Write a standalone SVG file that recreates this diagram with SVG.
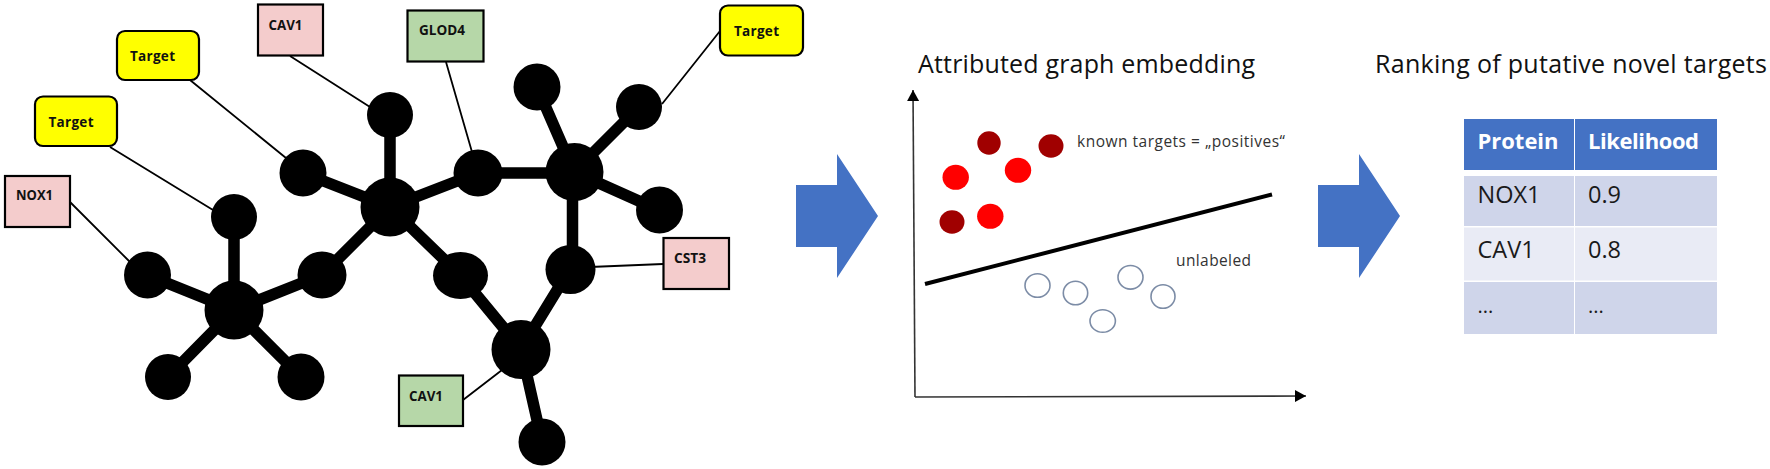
<svg xmlns="http://www.w3.org/2000/svg" width="1770" height="469" viewBox="0 0 1770 469">
<style>
text{font-family:"Open Sans","Noto Sans","Liberation Sans",sans-serif}
.edge{stroke:#000;stroke-width:11.500;fill:none}
.link{stroke:#000;stroke-width:1.8;fill:none}
.n{fill:#000}
.box{stroke:#000;stroke-width:2.2}
.pink{fill:#f4cccc}
.green{fill:#b6d7a8}
.yellow{fill:#ffff00}
.lab{font-size:13.500px;font-weight:700;fill:#111}
.title{font-size:25px;fill:#111}
.note{font-size:15.500px;fill:#333}
.arrow{fill:#4472c4}
.axis{stroke:#333;stroke-width:1.6;fill:none;marker-end:url(#ah)}
.pos{fill:#ff0000}
.dark{fill:#a00000}
.open{fill:#fff;stroke:#7c8ca6;stroke-width:1.6}
.hd{fill:#4472c4}
.r1{fill:#cfd5ea}
.r2{fill:#e9ebf5}
.th{font-size:22px;font-weight:700;fill:#fff}
.td{font-size:23.500px;fill:#1a1a1a}
</style>
<defs>
<marker id="ah" markerUnits="userSpaceOnUse" markerWidth="12" markerHeight="12" refX="11" refY="6" orient="auto"><path d="M0 0L11 6L0 12Z" fill="#000"/></marker>
</defs>
<rect width="1770" height="469" fill="#fff"/>
<g id="connectors">
<path class="edge" d="M234 310L234 217M234 310L147 275M234 310L168 377M234 310L301 377M234 310L322 275M322 275L390 207M390 207L390 115M390 207L303 173M390 207L478 173M478 173L574 173M574 172L537 87M574 172L639 107M574 172L659 210M572.500 172L572.500 269M570 269L521 349M390 207L460 275M460 275L521 349M521 349L542 442"/>
<path class="link" d="M70 202L130 262M110 147L213 210M190 80L286 158M290 56L370 107M446 62L472 152M720 31L662 104M590 267L663 264M463 400L502 370"/>
</g>
<g id="hub-a"><circle class="n" cx="234" cy="310" r="29.500"/></g>
<g id="node-a-top"><circle class="n" cx="234" cy="217" r="23"/></g>
<g id="node-a-left"><circle class="n" cx="147.500" cy="275" r="23.500"/></g>
<g id="node-a-bl"><circle class="n" cx="168" cy="377" r="23"/></g>
<g id="node-a-br"><circle class="n" cx="301" cy="377" r="23.500"/></g>
<g id="node-a-right"><ellipse class="n" cx="322" cy="275" rx="24.500" ry="23.500"/></g>
<g id="hub-b"><circle class="n" cx="390" cy="207" r="29.500"/></g>
<g id="node-b-top"><circle class="n" cx="390" cy="115" r="23"/></g>
<g id="node-b-left"><circle class="n" cx="303" cy="173" r="23.500"/></g>
<g id="node-glod"><ellipse class="n" cx="478" cy="173" rx="24.500" ry="23.500"/></g>
<g id="hub-c"><circle class="n" cx="574.500" cy="172" r="29"/></g>
<g id="node-c-top"><circle class="n" cx="537" cy="87" r="23.500"/></g>
<g id="node-c-ur"><circle class="n" cx="639" cy="107" r="23"/></g>
<g id="node-c-right"><circle class="n" cx="659.500" cy="210" r="23.500"/></g>
<g id="node-c-bottom"><ellipse class="n" cx="570.500" cy="269.500" rx="25" ry="24.500"/></g>
<g id="node-lb"><ellipse class="n" cx="460.500" cy="275.500" rx="27.500" ry="23.500"/></g>
<g id="hub-d"><circle class="n" cx="521" cy="349.500" r="29.500"/></g>
<g id="node-d-bottom"><circle class="n" cx="542" cy="442" r="23.500"/></g>
<g id="label-nox1"><rect class="box pink" x="5" y="176" width="65" height="51"/><text class="lab" x="16" y="200" textLength="37" lengthAdjust="spacingAndGlyphs">NOX1</text></g>
<g id="label-target-1"><rect class="box yellow" x="35" y="96.500" width="82" height="49.500" rx="8"/><text class="lab" x="48.500" y="127" textLength="45">Target</text></g>
<g id="label-target-2"><rect class="box yellow" x="117" y="31" width="82" height="49" rx="8"/><text class="lab" x="130" y="61" textLength="45">Target</text></g>
<g id="label-cav1-pink"><rect class="box pink" x="258" y="4.500" width="65" height="51"/><text class="lab" x="268.500" y="30" textLength="34" lengthAdjust="spacingAndGlyphs">CAV1</text></g>
<g id="label-glod4"><rect class="box green" x="407.500" y="10.500" width="76" height="51"/><text class="lab" x="419" y="35" textLength="46" lengthAdjust="spacingAndGlyphs">GLOD4</text></g>
<g id="label-target-3"><rect class="box yellow" x="720" y="5.500" width="83" height="50" rx="8"/><text class="lab" x="734" y="36" textLength="45">Target</text></g>
<g id="label-cst3"><rect class="box pink" x="663.500" y="238" width="65.500" height="51"/><text class="lab" x="674" y="263" textLength="32" lengthAdjust="spacingAndGlyphs">CST3</text></g>
<g id="label-cav1-green"><rect class="box green" x="399" y="375.500" width="64" height="50.500"/><text class="lab" x="409" y="401" textLength="34" lengthAdjust="spacingAndGlyphs">CAV1</text></g>
<polygon class="arrow" points="796,185 837,185 837,154 878,216 837,278 837,247 796,247"/>
<polygon class="arrow" points="1318,185 1359,185 1359,154 1400,216 1359,278 1359,247 1318,247"/>
<text class="title" x="918" y="73" textLength="337">Attributed graph embedding</text>
<path class="axis" d="M915 397L913 90"/>
<path class="axis" d="M915 397L1306 396"/>
<circle class="dark" cx="989" cy="143" r="11.700"/>
<ellipse class="dark" cx="1051" cy="146" rx="12.500" ry="11.700"/>
<ellipse class="dark" cx="952" cy="222" rx="12.500" ry="11.700"/>
<ellipse class="pos" cx="955.700" cy="177.300" rx="13.200" ry="12.500"/>
<ellipse class="pos" cx="1018" cy="170.300" rx="13.200" ry="12.500"/>
<ellipse class="pos" cx="990.300" cy="216.300" rx="13.200" ry="12.500"/>
<path d="M925 284L1272 194.500" stroke="#000" stroke-width="4" fill="none"/>
<ellipse class="open" cx="1037.500" cy="285.500" rx="12.500" ry="11.800"/>
<ellipse class="open" cx="1075.500" cy="293" rx="12.200" ry="11.800"/>
<ellipse class="open" cx="1130.500" cy="277.300" rx="12.500" ry="11.800"/>
<ellipse class="open" cx="1163" cy="296.500" rx="12" ry="11.800"/>
<ellipse class="open" cx="1102.700" cy="321" rx="12.700" ry="11.300"/>
<text class="note" x="1077" y="146.500" textLength="208">known targets = „positives“</text>
<text class="note" x="1176" y="266" textLength="75">unlabeled</text>
<text class="title" x="1375" y="73" textLength="392">Ranking of putative novel targets</text>
<rect class="hd" x="1464" y="119" width="110" height="51"/>
<rect class="hd" x="1575" y="119" width="142" height="51"/>
<rect class="r1" x="1464" y="176" width="110" height="50"/>
<rect class="r1" x="1575" y="176" width="142" height="50"/>
<rect class="r2" x="1464" y="227.500" width="110" height="53"/>
<rect class="r2" x="1575" y="227.500" width="142" height="53"/>
<rect class="r1" x="1464" y="282" width="110" height="52"/>
<rect class="r1" x="1575" y="282" width="142" height="52"/>
<text class="th" x="1477.500" y="149" textLength="81">Protein</text>
<text class="th" x="1588" y="149" textLength="111">Likelihood</text>
<text class="td" x="1477.500" y="203">NOX1</text>
<text class="td" x="1588" y="203">0.9</text>
<text class="td" x="1477.500" y="258">CAV1</text>
<text class="td" x="1588" y="258">0.8</text>
<text class="td" x="1477.500" y="313" style="font-size:20px">...</text>
<text class="td" x="1588" y="313" style="font-size:20px">...</text>
</svg>
